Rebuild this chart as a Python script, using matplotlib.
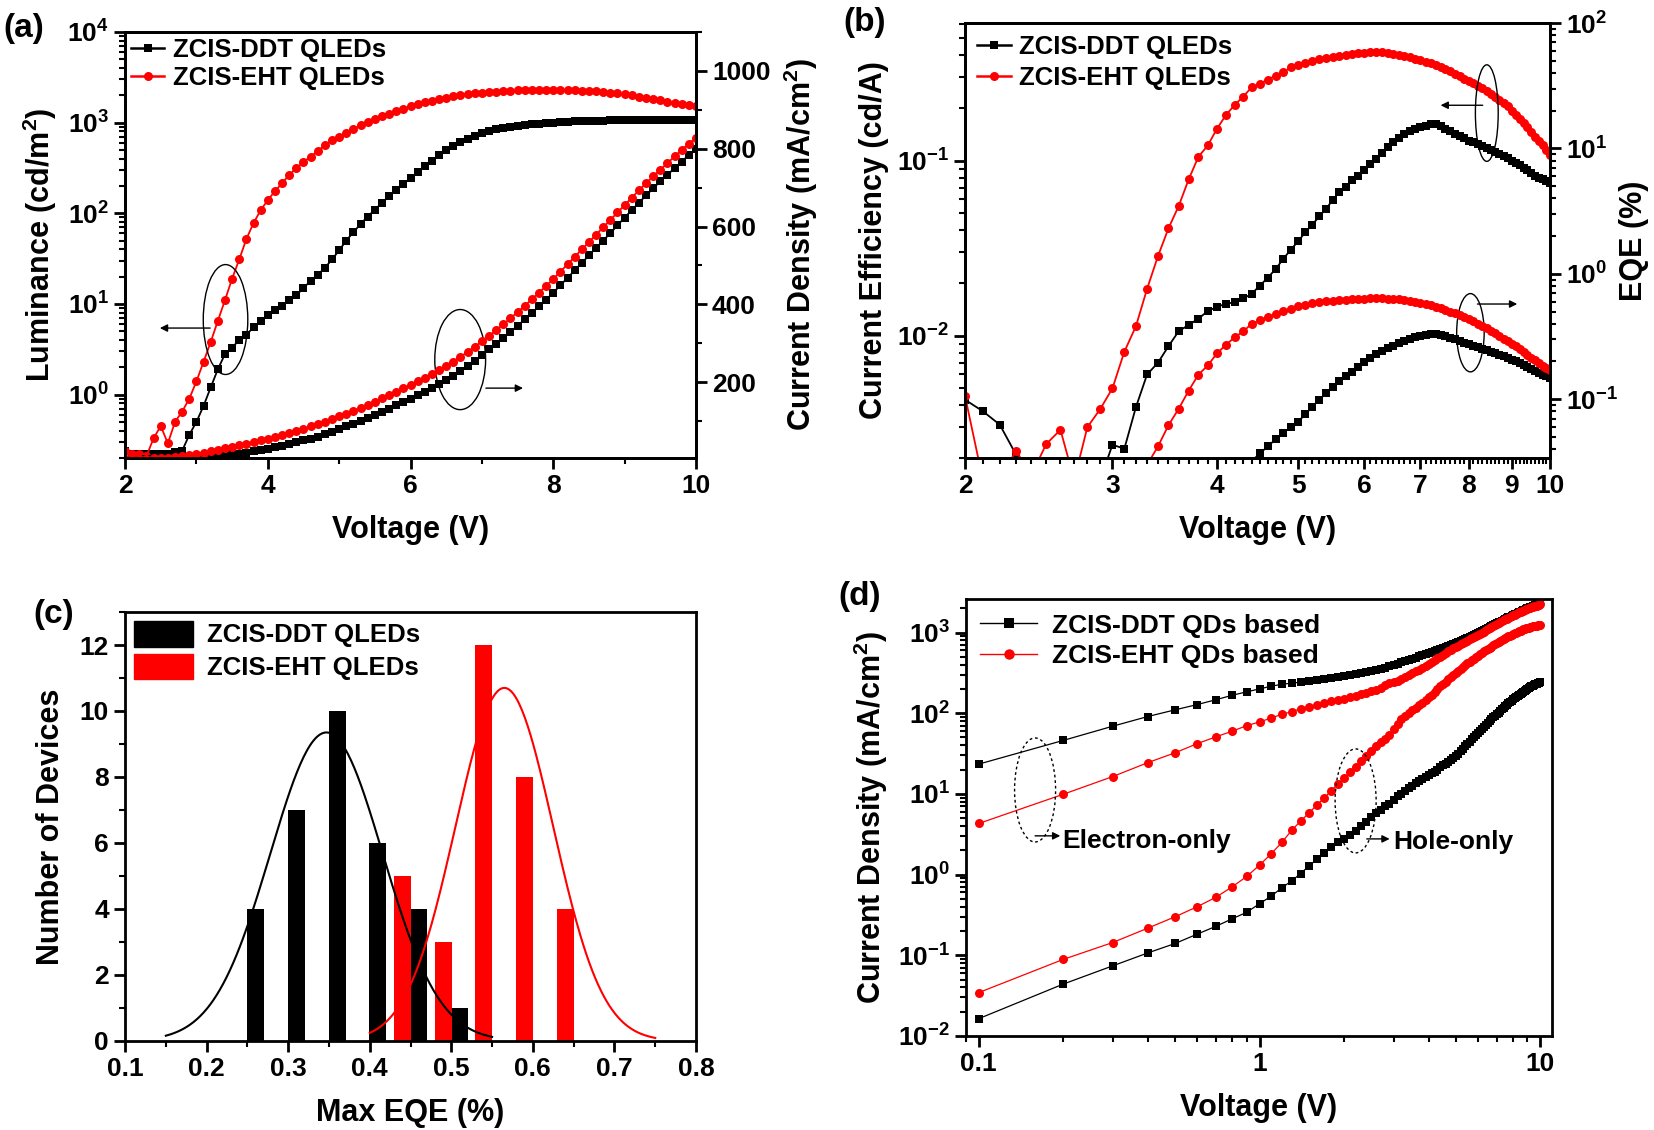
import numpy as np
import matplotlib
matplotlib.use('Agg')
import matplotlib.pyplot as plt
from matplotlib.patches import Ellipse, Patch
from matplotlib.lines import Line2D
from matplotlib.ticker import (MultipleLocator, LogLocator, NullFormatter,
                               FixedLocator, FuncFormatter, FixedFormatter)

plt.rcParams['font.family'] = ['Liberation Sans', 'DejaVu Sans']
plt.rcParams['font.weight'] = 'bold'
plt.rcParams['axes.labelweight'] = 'bold'
plt.rcParams['mathtext.fontset'] = 'custom'
plt.rcParams['mathtext.rm'] = 'Liberation Sans:bold'
plt.rcParams['mathtext.bf'] = 'Liberation Sans:bold'
plt.rcParams['mathtext.it'] = 'Liberation Sans:bold:italic'
plt.rcParams['mathtext.sf'] = 'Liberation Sans:bold'
plt.rcParams['axes.linewidth'] = 2.0

# ---------------- data: panels (a) and (b) ----------------
V_ab = np.round(np.arange(2.0, 10.001, 0.1), 1)

lum_ddt = [0.24, 0.22, 0.22, 0.22, 0.22, 0.22, 0.22, 0.23, 0.24, 0.36,
           0.5, 0.75, 1.2, 1.9, 2.8, 3.3, 4.0, 4.6, 5.5, 6.5,
           7.5, 8.5, 9.5, 11, 12.5, 15, 18, 21, 25, 31,
           39, 50, 62, 76, 92, 110, 130, 155, 180, 210,
           245, 285, 330, 380, 440, 500, 555, 610, 665, 715,
           770, 815, 850, 880, 905, 925, 945, 960, 975, 990,
           1000, 1010, 1020, 1030, 1038, 1045, 1050, 1055, 1060, 1062,
           1063, 1064, 1065, 1065, 1065, 1065, 1065, 1065, 1065, 1065,
           1065]
lum_eht = [0.24, 0.22, 0.22, 0.21, 0.33, 0.45, 0.29, 0.5, 0.65, 0.9,
           1.4, 2.3, 3.8, 6.5, 11, 19, 31, 52, 78, 108,
           140, 175, 215, 265, 315, 370, 420, 490, 560, 640,
           700, 770, 850, 930, 1010, 1090, 1170, 1250, 1340, 1430,
           1510, 1590, 1670, 1740, 1820, 1890, 1950, 2010, 2060, 2100,
           2140, 2170, 2200, 2230, 2250, 2270, 2280, 2290, 2300, 2300,
           2300, 2300, 2290, 2280, 2260, 2240, 2210, 2180, 2140, 2100,
           2050, 2000, 1940, 1880, 1820, 1760, 1700, 1650, 1600, 1560,
           1530]
jd_ddt = [1, 1, 1, 2, 2, 2, 3, 3, 4, 5,
          5, 6, 8, 10, 12, 14, 16, 19, 22, 25,
          28, 32, 36, 40, 45, 50, 55, 60, 66, 72,
          79, 86, 93, 100, 108, 116, 124, 132, 140, 148,
          157, 166, 175, 184, 194, 205, 216, 228, 241, 255,
          270, 284, 299, 314, 329, 345, 361, 378, 395, 412,
          430, 449, 468, 487, 506, 526, 545, 564, 583, 603,
          623, 642, 661, 680, 698, 716, 733, 750, 767, 784,
          800]
jd_eht = [2, 2, 3, 3, 4, 5, 6, 8, 10, 13,
          16, 19, 22, 26, 30, 34, 38, 42, 47, 52,
          55, 60, 65, 70, 75, 80, 86, 92, 98, 105,
          112, 119, 126, 134, 142, 150, 158, 166, 175, 184,
          193, 202, 211, 221, 231, 242, 253, 265, 278, 291,
          305, 319, 334, 349, 364, 380, 396, 413, 430, 447,
          465, 484, 503, 522, 541, 560, 579, 598, 617, 636,
          655, 674, 693, 711, 729, 746, 763, 780, 797, 813,
          828]

ce_eht = [0.0045, 0.0015, 0.0015, 0.0022, 0.0016, 0.0024, 0.0029, 0.0015, 0.003, 0.0038,
          0.005, 0.0081, 0.0113, 0.0185, 0.0284, 0.041, 0.055, 0.078, 0.105, 0.122,
          0.152, 0.182, 0.208, 0.232, 0.262, 0.275, 0.29, 0.305, 0.32, 0.34,
          0.35, 0.36, 0.37, 0.38, 0.385, 0.39, 0.395, 0.40, 0.405, 0.41,
          0.412, 0.415, 0.416, 0.416, 0.413, 0.408, 0.402, 0.396, 0.39, 0.382,
          0.375, 0.367, 0.36, 0.35, 0.34, 0.332, 0.324, 0.314, 0.304, 0.294,
          0.285, 0.276, 0.268, 0.259, 0.249, 0.24, 0.231, 0.222, 0.213, 0.204,
          0.193, 0.183, 0.173, 0.164, 0.155, 0.146, 0.137, 0.129, 0.122, 0.115,
          0.108]
ce_ddt = [0.0043, 0.0037, 0.0031, 0.0021, 0.0015, 0.0015, 0.0015, 0.0015, 0.0015, 0.0015,
          0.00238, 0.00226, 0.0039, 0.006, 0.007, 0.0087, 0.0106, 0.0115, 0.0125, 0.0138,
          0.0146, 0.0152, 0.0155, 0.0163, 0.0173, 0.0193, 0.0214, 0.024, 0.0274, 0.031,
          0.0345, 0.039, 0.043, 0.048, 0.053, 0.0595, 0.066, 0.071, 0.077, 0.082,
          0.088, 0.095, 0.102, 0.11, 0.119, 0.127, 0.134, 0.141, 0.147, 0.151,
          0.155, 0.158, 0.161, 0.161, 0.157, 0.152, 0.147, 0.142, 0.138, 0.134,
          0.13, 0.127, 0.124, 0.121, 0.118, 0.115, 0.112, 0.109, 0.106, 0.103,
          0.1, 0.097, 0.094, 0.091, 0.088, 0.085, 0.082, 0.08, 0.078, 0.076,
          0.074]
nan = np.nan
eqe_eht = [nan] * 13 + [
          0.03, 0.042, 0.062, 0.084, 0.117, 0.157, 0.186,
          0.232, 0.272, 0.312, 0.347, 0.40, 0.425, 0.45, 0.48, 0.51, 0.525,
          0.55, 0.568, 0.583, 0.595, 0.603, 0.61, 0.615, 0.62, 0.625, 0.63,
          0.635, 0.64, 0.64, 0.64, 0.635, 0.63, 0.625, 0.615, 0.605, 0.595,
          0.585, 0.572, 0.56, 0.545, 0.53, 0.515, 0.50, 0.485, 0.47, 0.452,
          0.435, 0.418, 0.40, 0.384, 0.368, 0.352, 0.336, 0.32, 0.305, 0.29,
          0.277, 0.264, 0.251, 0.238, 0.226, 0.214, 0.204, 0.194, 0.185, 0.177,
          0.17]
eqe_ddt = [nan] * 24 + [
          0.032, 0.037, 0.042, 0.048, 0.054, 0.06,
          0.066, 0.076, 0.087, 0.099, 0.112, 0.125, 0.14, 0.152, 0.165, 0.18,
          0.197, 0.212, 0.228, 0.243, 0.256, 0.268, 0.28, 0.292, 0.303, 0.312,
          0.32, 0.326, 0.33, 0.33, 0.326, 0.32, 0.31, 0.30, 0.29, 0.282,
          0.274, 0.266, 0.259, 0.252, 0.245, 0.238, 0.232, 0.226, 0.22, 0.214,
          0.207, 0.2, 0.194, 0.187, 0.18, 0.174, 0.168, 0.162, 0.157, 0.152,
          0.148]

# ---------------- data: panel (c) ----------------
eqe_bins_ddt = [0.26, 0.31, 0.36, 0.41, 0.46, 0.51]
counts_ddt = [4, 7, 10, 6, 4, 1]
eqe_bins_eht = [0.44, 0.49, 0.54, 0.59, 0.64]
counts_eht = [5, 3, 12, 8, 4]
fit_ddt = dict(center=0.347, sigma=0.069, amp=9.35, lo=0.15, hi=0.55)
fit_eht = dict(center=0.565, sigma=0.060, amp=10.7, lo=0.40, hi=0.75)

# ---------------- data: panel (d) ----------------
V_d = np.round(np.arange(0.1, 10.001, 0.1), 1)
eo_ddt = [23.4, 46, 69, 91, 110, 128, 147, 167, 184, 200,
          216, 228, 236, 242, 249, 256, 264, 272, 281, 290,
          298, 306, 315, 325, 334, 344, 355, 367, 380, 395,
          410, 425, 440, 456, 472, 489, 506, 524, 542, 557,
          573, 589, 606, 623, 640, 658, 676, 694, 712, 732,
          755, 778, 802, 827, 852, 878, 904, 930, 957, 985,
          1013, 1042, 1072, 1102, 1133, 1165, 1197, 1230, 1263, 1297,
          1333, 1366, 1400, 1434, 1468, 1502, 1536, 1570, 1604, 1638,
          1672, 1706, 1740, 1775, 1810, 1845, 1880, 1915, 1950, 1985,
          2020, 2055, 2090, 2125, 2160, 2195, 2230, 2265, 2300, 2340]
eo_eht = [4.3, 9.9, 16.4, 24.4, 32.3, 42, 51, 60, 70, 78,
          87, 97, 104, 114, 120, 126, 134, 140, 145, 150,
          157, 164, 172, 180, 186, 195, 208, 222, 236, 245,
          254, 268, 283, 298, 314, 330, 347, 365, 385, 405,
          428, 452, 477, 503, 530, 557, 584, 611, 635, 660,
          686, 712, 738, 765, 792, 820, 848, 876, 905, 935,
          965, 995, 1027, 1060, 1093, 1127, 1161, 1196, 1231, 1267,
          1303, 1339, 1376, 1413, 1450, 1487, 1524, 1561, 1598, 1635,
          1670, 1705, 1740, 1775, 1808, 1840, 1872, 1904, 1935, 1965,
          1995, 2024, 2052, 2080, 2107, 2133, 2158, 2182, 2205, 2227]
ho_ddt = [0.0164, 0.044, 0.074, 0.107, 0.14, 0.183, 0.229, 0.284, 0.341, 0.436,
          0.54, 0.686, 0.833, 1.03, 1.28, 1.54, 1.85, 2.2, 2.5, 2.78,
          3.1, 3.5, 4.0, 4.5, 5.1, 5.8, 6.4, 7.0, 7.5, 8.3,
          9.3, 10.1, 10.9, 11.7, 12.6, 13.5, 14.4, 15.3, 16.2, 17.0,
          17.9, 18.9, 20.0, 21.3, 22.5, 23.8, 25.2, 26.5, 27.8, 29.5,
          31.5, 33.8, 36.2, 38.8, 41.5, 44.5, 47.5, 50.5, 54, 57,
          60, 64, 68, 72, 76, 80, 85, 89, 93, 97,
          102, 107, 112, 117, 122, 127, 132, 138, 143, 148,
          153, 158, 164, 169, 174, 179, 184, 190, 195, 200,
          205, 210, 215, 219, 224, 228, 232, 236, 239, 242]
ho_eht = [0.0345, 0.089, 0.144, 0.217, 0.30, 0.40, 0.525, 0.708, 0.948, 1.31,
          1.81, 2.5, 3.52, 4.6, 5.8, 7.3, 8.9, 11.0, 13.2, 15.9,
          18.5, 21.5, 25.5, 29.6, 34, 38.8, 43.5, 48.5, 54, 63,
          74, 84, 93, 101, 108, 116, 125, 135, 146, 157,
          170, 184, 199, 215, 230, 247, 264, 282, 298, 315,
          333, 352, 372, 392, 413, 433, 453, 474, 495, 517,
          538, 560, 582, 604, 626, 648, 670, 693, 716, 740,
          762, 784, 806, 828, 850, 872, 894, 916, 938, 960,
          980, 1000, 1020, 1039, 1057, 1075, 1092, 1108, 1123, 1138,
          1152, 1165, 1177, 1188, 1198, 1207, 1215, 1222, 1228, 1233]

labels_qled = ['ZCIS-DDT QLEDs', 'ZCIS-EHT QLEDs']
labels_qd = ['ZCIS-DDT QDs based', 'ZCIS-EHT QDs based']

# ---------------- styling helpers ----------------
TICK = 19
LAB = 22
LEG = 18.5
RED = '#ff0000'


def logfmt(v, pos):
    e = int(round(np.log10(v)))
    return r'$\mathbf{10^{%d}}$' % e


def style_ticks(ax, which_axes='both'):
    ax.tick_params(axis=which_axes, which='major', direction='out', length=8,
                   width=2, labelsize=TICK)
    ax.tick_params(axis=which_axes, which='minor', direction='out', length=4,
                   width=1.5)


def log_y(ax):
    ax.set_yscale('log')
    ax.yaxis.set_major_locator(LogLocator(base=10, numticks=20))
    ax.yaxis.set_major_formatter(FuncFormatter(logfmt))
    ax.yaxis.set_minor_locator(LogLocator(base=10, subs=np.arange(2, 10), numticks=50))
    ax.yaxis.set_minor_formatter(NullFormatter())


def ellipse(ax, cx, cy, w, h, ls='-'):
    ax.add_patch(Ellipse((cx, cy), w, h, transform=ax.transAxes, fill=False,
                         ec='black', lw=1.0, ls=ls, zorder=10, clip_on=False))


def arrow(ax, x0, x1, y):
    ax.annotate('', xy=(x1, y), xytext=(x0, y), xycoords='axes fraction',
                arrowprops=dict(arrowstyle='-|>', color='black', lw=1.0,
                                mutation_scale=11, shrinkA=0, shrinkB=0),
                zorder=10)


fig = plt.figure(figsize=(16.54, 11.30), dpi=100)

# ================= (a) =================
axa = fig.add_axes([0.0756, 0.5947, 0.3452, 0.377])
axa_r = axa.twinx()
axa.plot(V_ab, lum_ddt, '-s', color='black', ms=5.5, lw=1.3, mew=0)
axa.plot(V_ab, lum_eht, '-o', color=RED, ms=6.5, lw=1.3, mew=0)
axa_r.plot(V_ab, jd_ddt, '-s', color='black', ms=5.5, lw=1.3, mew=0)
axa_r.plot(V_ab, jd_eht, '-o', color=RED, ms=6.5, lw=1.3, mew=0)
log_y(axa)
axa.set_ylim(0.2, 1e4)
axa.set_xlim(2, 10)
axa.xaxis.set_major_locator(MultipleLocator(2))
axa.xaxis.set_minor_locator(MultipleLocator(1))
axa_r.set_ylim(5, 1100)
axa_r.set_yticks([200, 400, 600, 800, 1000])
axa_r.yaxis.set_minor_locator(MultipleLocator(100))
style_ticks(axa)
style_ticks(axa_r)
axa.tick_params(axis='x', which='both', top=False)
axa.set_xlabel('Voltage (V)', fontsize=LAB, labelpad=12)
axa.set_ylabel('Luminance (cd/m$^{2}$)', fontsize=LAB, labelpad=6)
axa_r.set_ylabel('Current Density (mA/cm$^{2}$)', fontsize=LAB, labelpad=8)
ha = [Line2D([], [], color='black', marker='s', ms=5.5, lw=1.8, mew=0),
      Line2D([], [], color=RED, marker='o', ms=6.5, lw=1.8, mew=0)]
axa.legend(ha, labels_qled, loc='upper left', frameon=False, fontsize=LEG,
           handlelength=1.25, handletextpad=0.35, borderaxespad=0.0,
           borderpad=0.25, labelspacing=0.15)
ellipse(axa, 0.176, 0.325, 0.078, 0.258)
arrow(axa, 0.149, 0.061, 0.305)
ellipse(axa, 0.587, 0.231, 0.089, 0.235)
arrow(axa, 0.632, 0.697, 0.164)

# ================= (b) =================
axb = fig.add_axes([0.5835, 0.5947, 0.3536, 0.3849])
axb_r = axb.twinx()
axb.plot(V_ab, ce_ddt, '-s', color='black', ms=5.5, lw=1.3, mew=0)
axb.plot(V_ab, ce_eht, '-o', color=RED, ms=6.5, lw=1.3, mew=0)
axb_r.plot(V_ab, eqe_ddt, '-s', color='black', ms=5.5, lw=1.3, mew=0)
axb_r.plot(V_ab, eqe_eht, '-o', color=RED, ms=6.5, lw=1.3, mew=0)
axb.set_xscale('log')
axb.set_xlim(2, 10)
xt = [2, 3, 4, 5, 6, 7, 8, 9, 10]
axb.xaxis.set_major_locator(FixedLocator(xt))
axb.xaxis.set_major_formatter(FixedFormatter([str(v) for v in xt]))
minor_b = [round(2 + 0.1 * i, 1) for i in range(81)]
minor_b = [m for m in minor_b if abs(m - round(m)) > 1e-6]
axb.xaxis.set_minor_locator(FixedLocator(minor_b))
axb.xaxis.set_minor_formatter(NullFormatter())
log_y(axb)
axb.set_ylim(0.002, 0.61)
log_y(axb_r)
axb_r.set_ylim(0.034, 100)
style_ticks(axb)
style_ticks(axb_r)
axb.tick_params(axis='x', which='both', top=False)
axb.set_xlabel('Voltage (V)', fontsize=LAB, labelpad=12)
axb.set_ylabel('Current Efficiency (cd/A)', fontsize=LAB, labelpad=6)
axb_r.set_ylabel('EQE (%)', fontsize=LAB, labelpad=1)
axb.legend(ha, labels_qled, loc='upper left', frameon=False, fontsize=LEG,
           handlelength=1.35, handletextpad=0.3, borderaxespad=0.0,
           borderpad=0.45, labelspacing=0.3)
ellipse(axb, 0.892, 0.793, 0.039, 0.222)
arrow(axb, 0.885, 0.813, 0.811)
ellipse(axb, 0.864, 0.288, 0.047, 0.18)
arrow(axb, 0.876, 0.944, 0.354)

# ================= (c) =================
axc = fig.add_axes([0.0756, 0.0788, 0.3452, 0.3796])
axc.bar(eqe_bins_ddt, counts_ddt, width=0.021, color='black', zorder=2)
axc.bar(eqe_bins_eht, counts_eht, width=0.021, color=RED, zorder=2)
for fit, col in ((fit_ddt, 'black'), (fit_eht, RED)):
    xs = np.linspace(fit['lo'], fit['hi'], 200)
    ys = fit['amp'] * np.exp(-(xs - fit['center']) ** 2 / (2 * fit['sigma'] ** 2))
    axc.plot(xs, ys, color=col, lw=1.5, zorder=3)
axc.set_xlim(0.1, 0.8)
axc.set_ylim(0, 13)
axc.xaxis.set_major_locator(MultipleLocator(0.1))
axc.xaxis.set_major_formatter(FuncFormatter(lambda v, p: '%.1f' % v))
axc.xaxis.set_minor_locator(MultipleLocator(0.05))
axc.yaxis.set_major_locator(MultipleLocator(2))
axc.yaxis.set_minor_locator(MultipleLocator(1))
style_ticks(axc)
axc.tick_params(top=False, right=False, which='both')
axc.set_xlabel('Max EQE (%)', fontsize=LAB, labelpad=12)
axc.set_ylabel('Number of Devices', fontsize=LAB, labelpad=10)
hc = [Patch(color='black'), Patch(color=RED)]
axc.legend(hc, labels_qled, loc='upper left', frameon=False, fontsize=LEG,
           handlelength=2.3, handleheight=1.15, handletextpad=0.55,
           borderaxespad=0.0, borderpad=0.35, labelspacing=0.25)

# ================= (d) =================
axd = fig.add_axes([0.584, 0.0832, 0.3543, 0.3867])
axd.plot(V_d, eo_ddt, '-s', color='black', ms=6, lw=0.9, mew=0)
axd.plot(V_d, eo_eht, '-o', color=RED, ms=6.5, lw=0.9, mew=0)
axd.plot(V_d, ho_ddt, '-s', color='black', ms=6, lw=0.9, mew=0)
axd.plot(V_d, ho_eht, '-o', color=RED, ms=6.5, lw=0.9, mew=0)
axd.set_xscale('log')
axd.set_xlim(0.09, 11)
axd.xaxis.set_major_locator(FixedLocator([0.1, 1, 10]))
axd.xaxis.set_major_formatter(FixedFormatter(['0.1', '1', '10']))
axd.xaxis.set_minor_locator(LogLocator(base=10, subs=np.arange(2, 10), numticks=50))
axd.xaxis.set_minor_formatter(NullFormatter())
log_y(axd)
axd.set_ylim(0.01, 2600)
style_ticks(axd)
axd.tick_params(top=False, right=False, which='both')
axd.set_xlabel('Voltage (V)', fontsize=LAB, labelpad=12)
axd.set_ylabel('Current Density (mA/cm$^{2}$)', fontsize=LAB, labelpad=6)
hd = [Line2D([], [], color='black', marker='s', ms=7, lw=1.0, mew=0),
      Line2D([], [], color=RED, marker='o', ms=7.5, lw=1.0, mew=0)]
axd.legend(hd, labels_qd, loc='upper left', frameon=False, fontsize=19,
           handlelength=2.15, handletextpad=0.55, borderaxespad=0.35,
           borderpad=0.2, labelspacing=0.25)
ellipse(axd, 0.118, 0.563, 0.07, 0.238, ls=(0, (2, 2)))
arrow(axd, 0.118, 0.161, 0.458)
axd.text(0.165, 0.447, 'Electron-only', transform=axd.transAxes, fontsize=19,
         ha='left', va='center')
ellipse(axd, 0.665, 0.538, 0.07, 0.238, ls=(0, (2, 2)))
arrow(axd, 0.684, 0.723, 0.451)
axd.text(0.73, 0.443, 'Hole-only', transform=axd.transAxes, fontsize=19,
         ha='left', va='center')

# panel labels
fig.text(0.002, 0.975, '(a)', fontsize=24, ha='left', va='center')
fig.text(0.510, 0.9805, '(b)', fontsize=24, ha='left', va='center')
fig.text(0.020, 0.4566, '(c)', fontsize=24, ha='left', va='center')
fig.text(0.5066, 0.4717, '(d)', fontsize=24, ha='left', va='center')

fig.savefig('out.png', dpi=100)
